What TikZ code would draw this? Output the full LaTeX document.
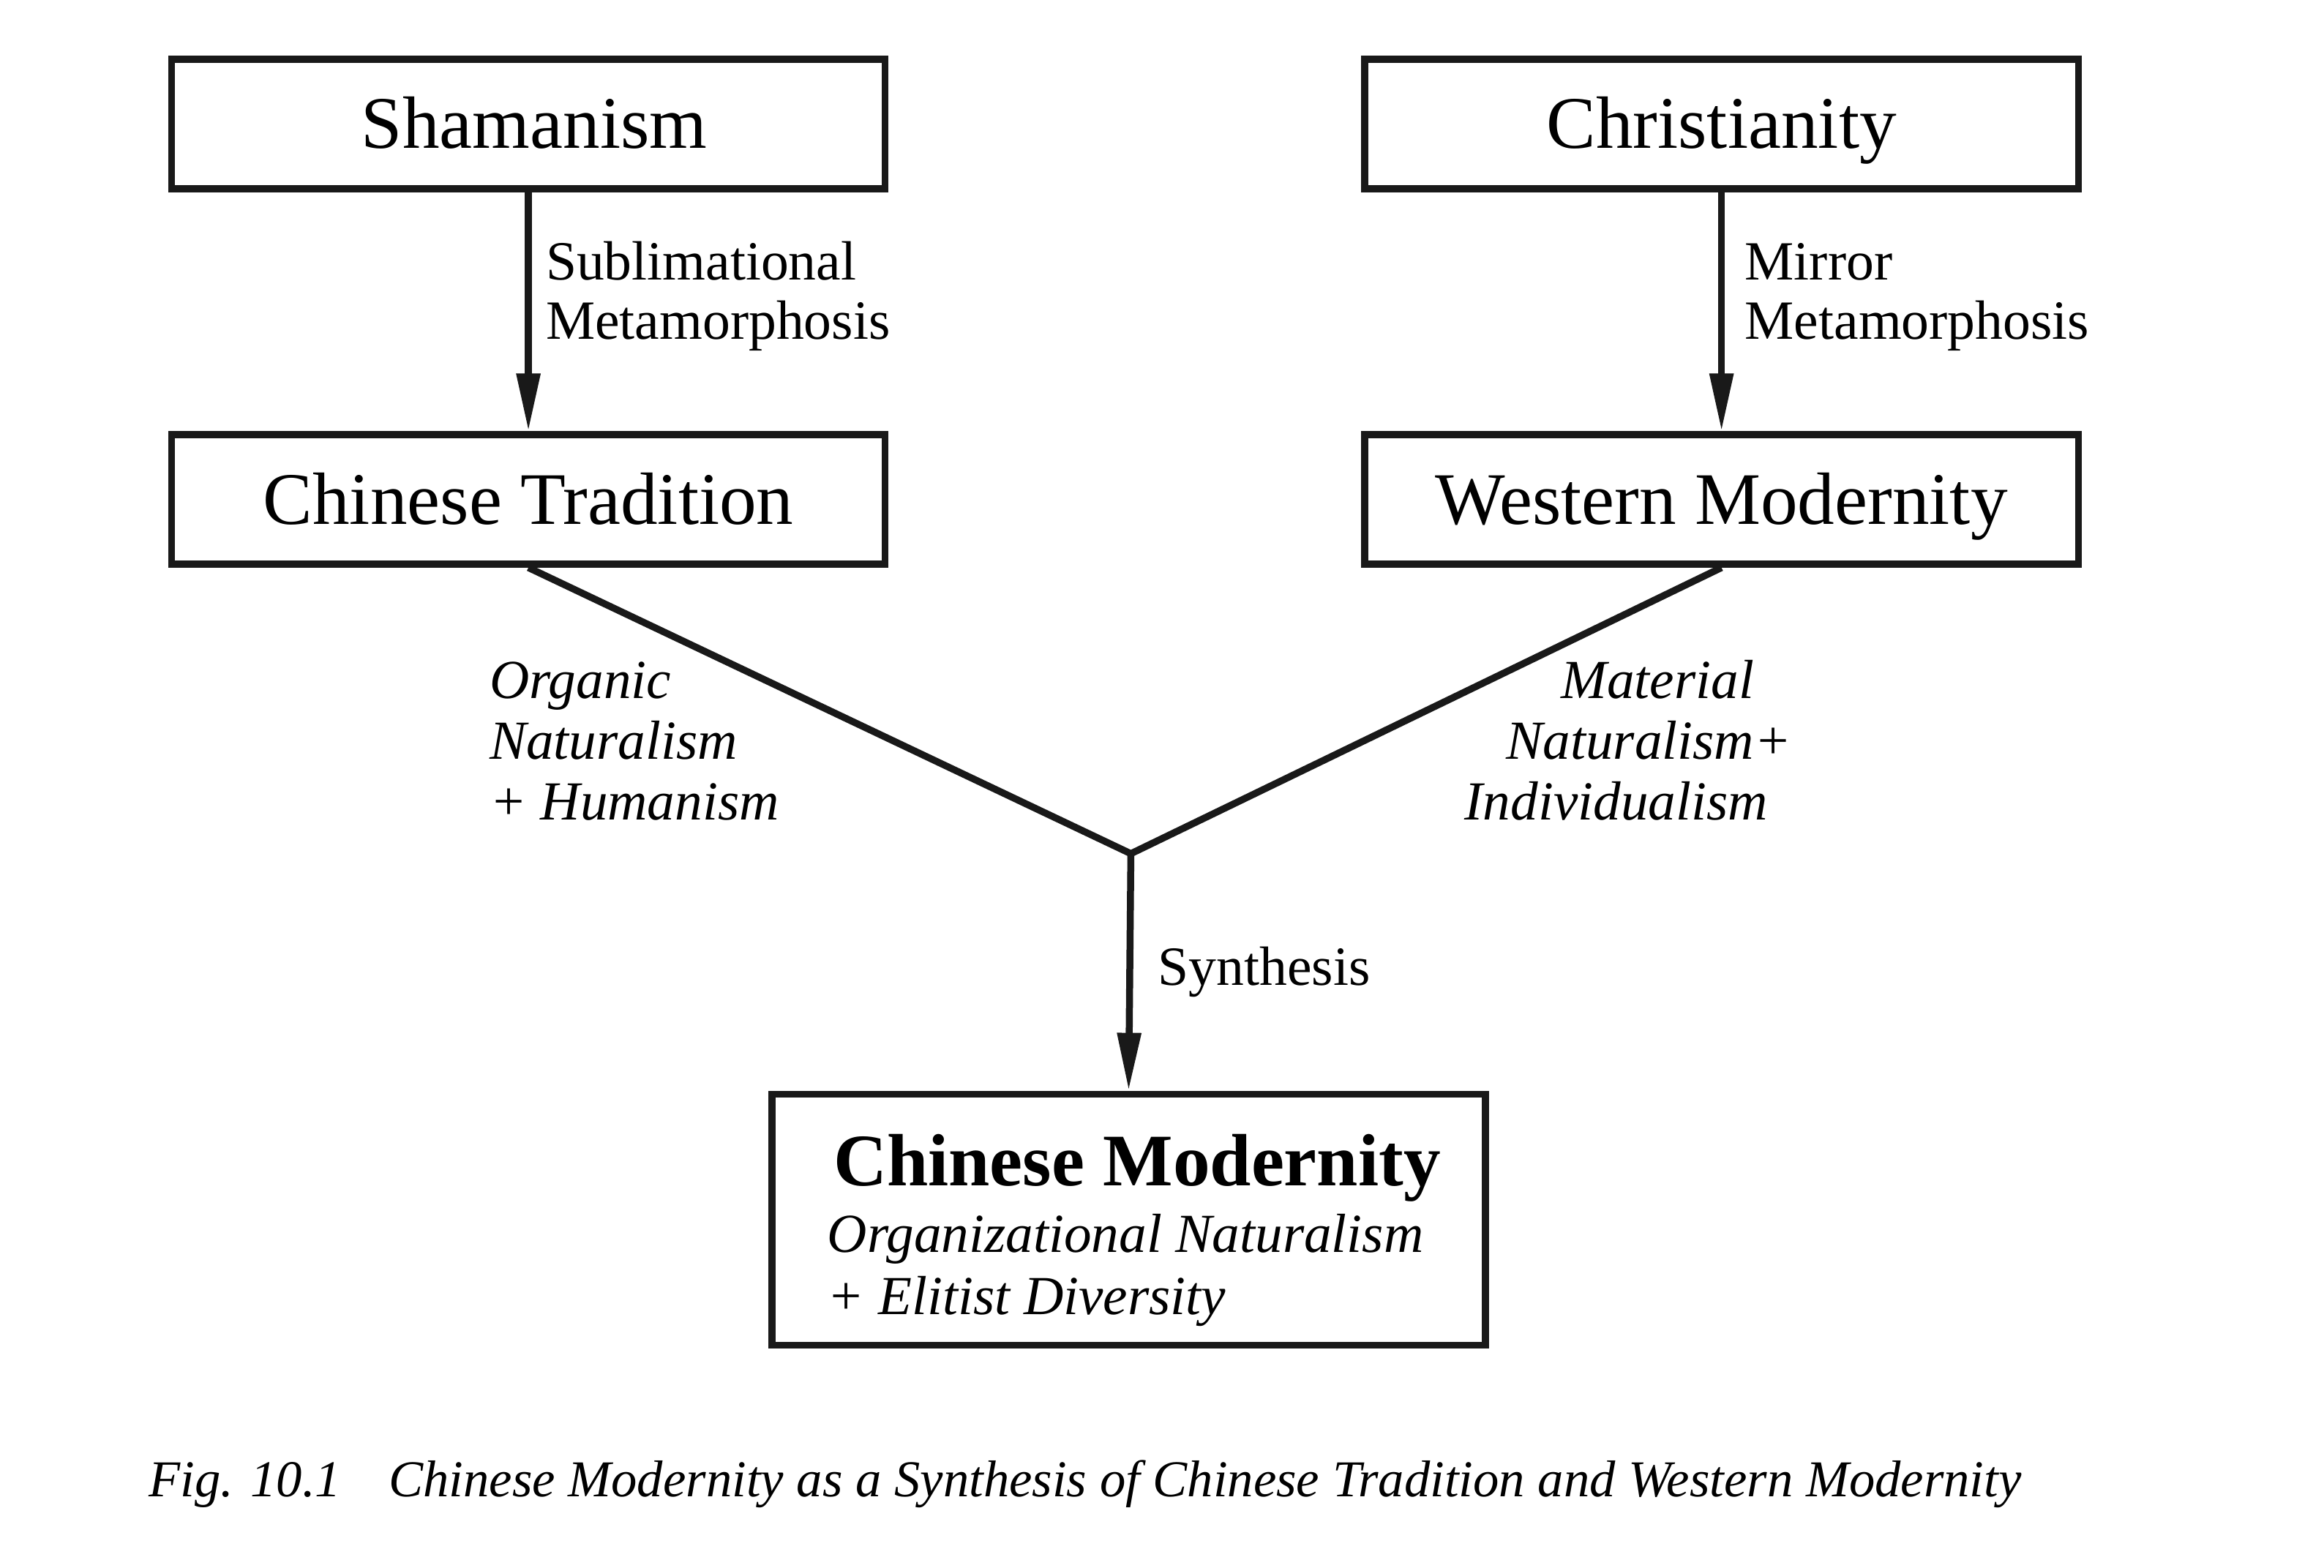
\documentclass[tikz,border=0pt]{standalone}
\usepackage{fontspec}
\setmainfont{Liberation Serif}
\usetikzlibrary{arrows.meta}
\definecolor{ink}{rgb}{0.1,0.1,0.1}
\begin{document}
\begin{tikzpicture}[x=0.020255cm,y=-0.020255cm,
  box/.style={draw=ink, line width=2.7pt, inner sep=0pt, minimum width=277.4pt, minimum height=50.3pt,
    text height=24pt, text depth=5pt, font=\fontsize{28.8pt}{32pt}\selectfont},
  bigbox/.style={draw=ink, line width=2.7pt, inner sep=0pt, minimum width=277.4pt, minimum height=97.6pt},
  lbl/.style={anchor=base west, inner sep=0pt, font=\fontsize{21.5pt}{24pt}\selectfont},
  ilbl/.style={lbl, font=\fontsize{21.4pt}{24pt}\selectfont\itshape},
  captext/.style={anchor=base west, inner sep=0pt, font=\fontsize{20.1pt}{24pt}\selectfont\itshape},
  conn/.style={draw=ink, line width=2.7pt},
  arr/.style={conn, -{Triangle[length=22.5pt,width=8.8pt]}}
]
\useasboundingbox[fill=white] (0,0) rectangle (1568,1058);

\node[box] (sham) at (356.5,83.7) {\hspace*{4.6pt}Shamanism};
\node[box] (chri) at (1161.5,83.7) {Christianity};
\node[box] (trad) at (356.5,337) {Chinese Tradition};
\node[box] (west) at (1161.5,337) {Western Modernity};
\node[bigbox] (cmod) at (761.5,823) {};

\coordinate (J) at (763,576);

\draw[arr] (sham.south) -- (trad.north);
\draw[arr] (chri.south) -- (west.north);
\draw[conn, line join=miter] (trad.south) -- (J) -- (west.south);
\draw[arr] (J) -- (cmod.north);

\node[lbl] (l1a) at (368,189) {Sublimational};
\node[lbl] (l1b) at (368,229) {Metamorphosis};
\node[lbl] (l2a) at (1177,189) {Mirror};
\node[lbl] (l2b) at (1177,229) {Metamorphosis};

\node[ilbl] (l3a) at (330,471) {Organic};
\node[ilbl] (l3b) at (330,512) {Naturalism};
\node[ilbl] (l3c) at (330,553) {+ Humanism};

\node[ilbl] (l4a) at (1053,471) {Material};
\node[ilbl] (l4b) at (1016,512) {Naturalism+};
\node[ilbl] (l4c) at (988,553) {Individualism};

\node[lbl] (syn) at (781,665) {Synthesis};

\node[anchor=base west, inner sep=0pt, font=\fontsize{28.8pt}{32pt}\selectfont\bfseries] (cmt) at (562,800) {Chinese Modernity};
\node[ilbl] (cm1) at (558,845) {Organizational Naturalism};
\node[ilbl] (cm2) at (558,887) {+ Elitist Diversity};

\node[captext] (capa) at (100,1010) {Fig. 10.1};
\node[captext] (capb) at (262,1010) {Chinese Modernity as a Synthesis of Chinese Tradition and Western Modernity};
\end{tikzpicture}
\end{document}
